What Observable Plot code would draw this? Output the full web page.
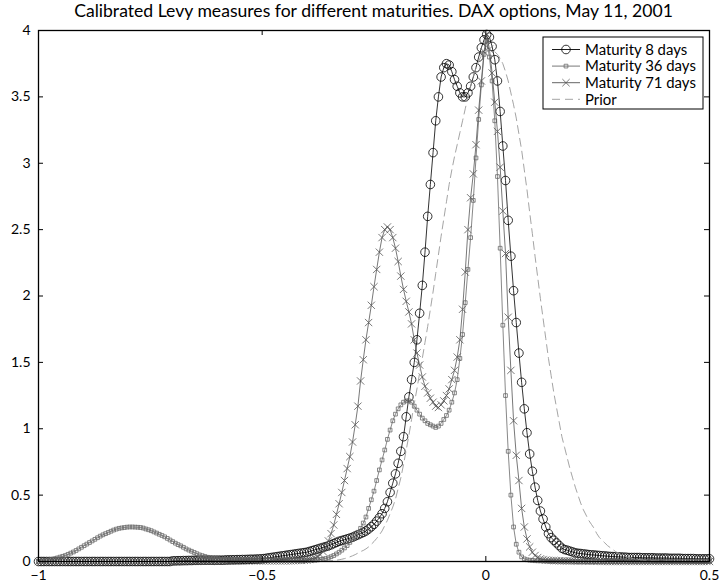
<!DOCTYPE html>
<html><head><meta charset="utf-8">
<script src="https://cdn.jsdelivr.net/npm/d3@7"></script>
<script src="https://cdn.jsdelivr.net/npm/@observablehq/plot@0.6"></script>
<style>
html,body{margin:0;padding:0;background:#fff;}
#chart{position:relative;width:719px;height:587px;}
</style></head><body><div id="chart"></div>
<script>
// sampling grid of the curves: x = -1 + 0.006 * i, i = 0..250
const xStart = -1, xStep = 0.006;

const maturity8 = [
 0,0,0,0,0,0,0,0,0,0,
 0,0,0,0,0,0,0,0,0,0,
 0,0,0,0,0,0,0,0,0,0,
 0,0,0,0,0,0,0,0,0,0,
 0,0,0,0,0,0,0,0,0,0,
 0.005,0.005,0.006,0.006,0.007,0.007,0.008,0.008,0.009,0.009,
 0.01,0.01,0.01,0.01,0.01,0.01,0.01,0.01,0.01,0.01,
 0.012,0.012,0.013,0.013,0.014,0.014,0.015,0.015,0.016,0.017,
 0.017,0.018,0.019,0.02,0.022,0.025,0.028,0.031,0.034,0.037,
 0.04,0.043,0.046,0.049,0.052,0.055,0.058,0.061,0.064,0.067,
 0.07,0.076,0.082,0.088,0.094,0.10,0.106,0.112,0.118,0.126,
 0.135,0.144,0.152,0.158,0.164,0.17,0.176,0.183,0.192,0.201,
 0.21,0.219,0.23,0.245,0.262,0.28,0.304,0.33,0.36,0.40,
 0.45,0.52,0.59,0.66,0.74,0.83,0.94,1.09,1.24,1.37,
 1.50,1.67,1.87,2.08,2.33,2.60,2.84,3.08,3.32,3.50,
 3.65,3.72,3.75,3.74,3.69,3.63,3.58,3.53,3.50,3.50,
 3.53,3.58,3.65,3.72,3.80,3.87,3.93,3.97,3.95,3.88,
 3.78,3.62,3.39,3.13,2.87,2.57,2.30,2.04,1.80,1.57,
 1.35,1.15,0.97,0.81,0.68,0.56,0.46,0.38,0.32,0.26,
 0.21,0.18,0.16,0.14,0.12,0.10,0.09,0.085,0.078,0.072,
 0.065,0.062,0.06,0.057,0.055,0.052,0.05,0.049,0.047,0.045,
 0.043,0.042,0.04,0.038,0.037,0.036,0.035,0.034,0.033,0.032,
 0.03,0.03,0.03,0.03,0.03,0.028,0.028,0.028,0.028,0.028,
 0.026,0.026,0.026,0.026,0.026,0.024,0.024,0.024,0.024,0.024,
 0.022,0.022,0.022,0.022,0.022,0.02,0.02,0.02,0.02,0.02,
 0.02
];
const maturity36 = [
 0,0.003,0.006,0.009,0.012,0.015,0.021,0.027,0.033,0.039,
 0.045,0.054,0.063,0.072,0.083,0.095,0.107,0.119,0.131,0.143,
 0.155,0.167,0.179,0.191,0.201,0.21,0.219,0.228,0.237,0.244,
 0.25,0.253,0.256,0.259,0.26,0.26,0.259,0.258,0.256,0.252,
 0.245,0.239,0.232,0.223,0.214,0.205,0.196,0.186,0.174,0.162,
 0.15,0.138,0.127,0.118,0.107,0.095,0.086,0.077,0.068,0.059,
 0.05,0.044,0.038,0.032,0.028,0.025,0.022,0.02,0.018,0.017,
 0.016,0.015,0.015,0.015,0.015,0.015,0.014,0.014,0.013,0.013,
 0.012,0.012,0.012,0.011,0.011,0.011,0.01,0.01,0.01,0.01,
 0.01,0.01,0.01,0.01,0.01,0.01,0.01,0.01,0.01,0.01,
 0.01,0.01,0.01,0.01,0.012,0.015,0.018,0.022,0.028,0.036,
 0.045,0.057,0.07,0.085,0.102,0.12,0.144,0.168,0.192,0.22,
 0.25,0.29,0.335,0.40,0.465,0.53,0.61,0.69,0.765,0.84,
 0.92,0.99,1.06,1.11,1.15,1.18,1.20,1.21,1.21,1.20,
 1.17,1.14,1.11,1.08,1.06,1.04,1.03,1.02,1.01,1.02,
 1.04,1.07,1.10,1.14,1.20,1.27,1.37,1.53,1.71,1.95,
 2.20,2.44,2.72,3.04,3.33,3.59,3.82,3.92,3.80,3.62,
 3.32,2.90,2.36,1.78,1.25,0.83,0.50,0.26,0.13,0.07,
 0.035,0.02,0.013,0.01,0.008,0.006,0.005,0.005,0.004,0.004,
 0.003,0.003,0.003,0.003,0.003,0.002,0.002,0.002,0.002,0.002,
 0,0,0,0,0,0,0,0,0,0,
 0,0,0,0,0,0,0,0,0,0,
 0,0,0,0,0,0,0,0,0,0,
 0,0,0,0,0,0,0,0,0,0,
 0,0,0,0,0,0,0,0,0,0,
 0
];
const maturity71 = [
 0,0,0,0,0,0,0,0,0,0,
 0,0,0,0,0,0,0,0,0,0,
 0,0,0,0,0,0,0,0,0,0,
 0,0,0,0,0,0,0,0,0,0,
 0,0,0,0,0,0,0,0,0,0,
 0,0,0,0,0,0,0,0,0,0,
 0.003,0.003,0.003,0.003,0.003,0.003,0.003,0.003,0.003,0.003,
 0.005,0.005,0.005,0.005,0.005,0.005,0.005,0.005,0.005,0.005,
 0.005,0.005,0.005,0.005,0.005,0.005,0.005,0.005,0.005,0.005,
 0.005,0.005,0.005,0.005,0.005,0.006,0.007,0.008,0.008,0.009,
 0.01,0.015,0.022,0.028,0.038,0.05,0.075,0.11,0.155,0.21,
 0.275,0.355,0.435,0.52,0.61,0.70,0.79,0.90,1.03,1.17,
 1.36,1.52,1.67,1.80,1.93,2.07,2.20,2.33,2.44,2.50,
 2.52,2.50,2.44,2.36,2.26,2.15,2.05,1.96,1.88,1.79,
 1.67,1.57,1.48,1.39,1.32,1.27,1.23,1.20,1.17,1.16,
 1.18,1.21,1.25,1.30,1.37,1.44,1.54,1.67,1.90,2.18,
 2.50,2.74,2.92,3.14,3.40,3.62,3.84,3.97,3.86,3.68,
 3.46,3.24,2.97,2.64,2.32,1.84,1.44,1.06,0.80,0.61,
 0.40,0.26,0.17,0.11,0.07,0.045,0.03,0.02,0.015,0.011,
 0.009,0.008,0.007,0.006,0.005,0.005,0.005,0.004,0.004,0.004,
 0.003,0.003,0.003,0.003,0.003,0.002,0.002,0.002,0.002,0.002,
 0,0,0,0,0,0,0,0,0,0,
 0,0,0,0,0,0,0,0,0,0,
 0,0,0,0,0,0,0,0,0,0,
 0,0,0,0,0,0,0,0,0,0,
 0
];
const prior = [
 0,0,0,0,0,0,0,0,0,0,
 0,0,0,0,0,0,0,0,0,0,
 0,0,0,0,0,0,0,0,0,0,
 0,0,0,0,0,0,0,0,0,0,
 0,0,0,0,0,0,0,0,0,0,
 0,0,0,0,0,0,0,0,0,0,
 0,0,0,0,0,0,0,0,0,0,
 0,0,0,0,0,0,0,0,0,0,
 0,0,0,0,0,0,0,0,0,0,
 0,0,0,0,0,0,0,0,0,0,
 0,0,0.001,0.002,0.002,0.003,0.004,0.004,0.005,0.006,
 0.008,0.01,0.013,0.017,0.022,0.027,0.035,0.043,0.052,0.063,
 0.075,0.083,0.095,0.11,0.13,0.15,0.174,0.20,0.23,0.27,
 0.31,0.36,0.41,0.47,0.55,0.63,0.73,0.84,0.95,1.07,
 1.19,1.30,1.42,1.53,1.65,1.77,1.90,2.03,2.17,2.31,
 2.45,2.58,2.71,2.84,2.95,3.05,3.14,3.23,3.32,3.41,
 3.50,3.58,3.65,3.72,3.77,3.81,3.84,3.85,3.86,3.85,
 3.84,3.82,3.79,3.75,3.69,3.62,3.53,3.44,3.34,3.22,
 3.10,2.95,2.80,2.63,2.47,2.30,2.14,1.98,1.83,1.68,
 1.53,1.40,1.27,1.16,1.05,0.94,0.86,0.78,0.70,0.63,
 0.56,0.50,0.44,0.39,0.35,0.31,0.28,0.25,0.21,0.18,
 0.16,0.14,0.12,0.105,0.09,0.075,0.063,0.052,0.043,0.035,
 0.03,0.025,0.021,0.017,0.014,0.011,0.009,0.007,0.006,0.005,
 0.004,0.003,0.003,0.003,0.003,0.003,0.002,0.002,0.002,0.002,
 0,0,0,0,0,0,0,0,0,0,
 0
];

const xTicks = [-1, -0.5, 0, 0.5];
const yTicks = [0, 0.5, 1, 1.5, 2, 2.5, 3, 3.5, 4];
const seriesNames = ["Maturity 8 days", "Maturity 36 days", "Maturity 71 days", "Prior"];
const titleText = "Calibrated Levy measures for different maturities. DAX options, May 11, 2001";

const xs = d3.range(maturity8.length).map(i => +(xStart + i * xStep).toFixed(4));
const rows = vals => vals.map((y, i) => ({x: xs[i], y}));
const d8 = rows(maturity8), d36 = rows(maturity36), d71 = rows(maturity71), dp = rows(prior);

const col8 = "#000000", col36 = "#6a6a6a", col71 = "#555555", colPrior = "#9a9a9a";
const r8 = 4.3, r36 = 2.1, r71 = 3.4;
const fmtX = d => d === 0 ? "0" : (d < 0 ? "\u2212" + Math.abs(d) : String(d));
const fmtY = d => String(d);
const FONT = "Lato, 'Open Sans', sans-serif";

const W = 719, H = 587, ML = 38, MR = 10, MT = 30, MB = 26, TICK = 5;
const innerW = W - ML - MR, innerH = H - MT - MB;

const plot = Plot.plot({
  width: W, height: H,
  marginLeft: ML, marginRight: MR, marginTop: MT, marginBottom: MB,
  style: {fontFamily: FONT, fontSize: "14px", background: "#fff", color: "#000"},
  x: {domain: [-1, 0.5]},
  y: {domain: [0, 4]},
  marks: [
    Plot.line(d8, {x: "x", y: "y", stroke: col8, strokeWidth: 0.8}),
    Plot.dot(d8, {x: "x", y: "y", r: r8, symbol: "circle", stroke: col8, strokeWidth: 0.8, fill: "none"}),
    Plot.line(d36, {x: "x", y: "y", stroke: col36, strokeWidth: 0.8}),
    Plot.dot(d36, {x: "x", y: "y", r: r36, symbol: "square", stroke: col36, strokeWidth: 0.8, fill: "none"}),
    Plot.line(d71, {x: "x", y: "y", stroke: col71, strokeWidth: 0.8}),
    Plot.dot(d71, {x: "x", y: "y", r: r71, symbol: "times", stroke: col71, strokeWidth: 0.8}),
    Plot.line(dp, {x: "x", y: "y", stroke: colPrior, strokeWidth: 0.9, strokeDasharray: "8,5"}),
    Plot.frame({stroke: "#000", strokeWidth: 1.3}),
    // inward tick marks on all four sides
    Plot.tickX(xTicks, {x: d => d, insetTop: innerH - TICK, stroke: "#000"}),
    Plot.tickX(xTicks, {x: d => d, insetBottom: innerH - TICK, stroke: "#000"}),
    Plot.tickY(yTicks, {y: d => d, insetRight: innerW - TICK, stroke: "#000"}),
    Plot.tickY(yTicks, {y: d => d, insetLeft: innerW - TICK, stroke: "#000"}),
    Plot.axisX(xTicks, {anchor: "bottom", tickSize: 0, tickPadding: 9, tickFormat: fmtX, label: null, fontSize: 14}),
    Plot.axisY(yTicks, {anchor: "left", tickSize: 0, tickPadding: 8, tickFormat: fmtY, label: null, fontSize: 14})
  ]
});
document.getElementById("chart").appendChild(plot);

const svg = d3.select(plot);
// title
const t = svg.append("text")
  .attr("x", ML + innerW / 2).attr("y", 17)
  .attr("text-anchor", "middle")
  .attr("font-family", FONT).attr("font-size", 12.5)
  .attr("fill", "#000")
  .text(titleText);
const tw = t.node().getComputedTextLength();
if (tw > 0) t.attr("font-size", 12.5 * 599 / tw);

// legend
const lg = svg.append("g").attr("text-anchor", "start");
lg.append("rect").attr("x", 543).attr("y", 37).attr("width", 160).attr("height", 72)
  .attr("fill", "#fff").attr("stroke", "#000").attr("stroke-width", 1);
const legendStyles = [
  {stroke: col8, sym: d3.symbolCircle, r: r8, dash: null},
  {stroke: col36, sym: d3.symbolSquare, r: r36, dash: null},
  {stroke: col71, sym: d3.symbolTimes, r: r71, dash: null},
  {stroke: colPrior, sym: null, r: 0, dash: "8,5"}
];
const texts = [];
seriesNames.forEach((name, i) => {
  const y = 49.5 + i * 16.6;
  const s = legendStyles[i];
  lg.append("line").attr("x1", 552).attr("x2", 580).attr("y1", y).attr("y2", y)
    .attr("stroke", s.stroke).attr("stroke-width", 0.9)
    .attr("stroke-dasharray", s.dash);
  if (s.sym) {
    lg.append("path").attr("d", d3.symbol(s.sym, Math.PI * s.r * s.r)())
      .attr("transform", `translate(566,${y})`)
      .attr("fill", "none").attr("stroke", s.stroke).attr("stroke-width", 0.8);
  }
  texts.push(lg.append("text").attr("x", 585).attr("y", y).attr("dy", "0.35em")
    .attr("text-anchor", "start")
    .attr("font-family", FONT).attr("font-size", 14).attr("fill", "#000")
    .text(name));
});
// match the legend text width of the reference (longest entry ~111px)
const lw = texts[1].node().getComputedTextLength();
if (lw > 0) {
  const fs = Math.min(15.5, 14 * 111 / lw);
  texts.forEach(tx => tx.attr("font-size", fs));
}
</script>
</body></html>
